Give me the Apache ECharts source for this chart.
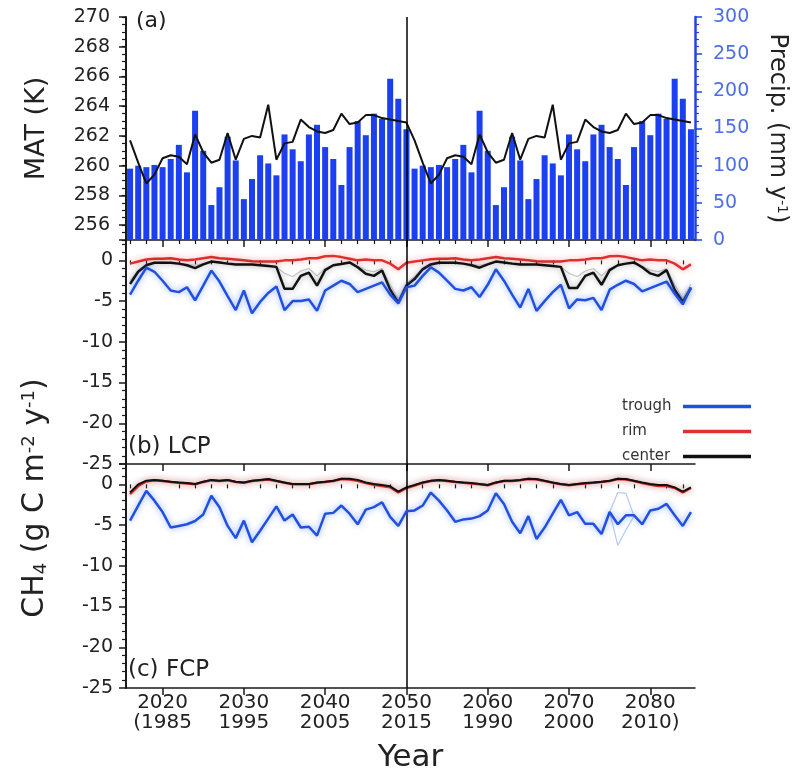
<!DOCTYPE html>
<html><head><meta charset="utf-8">
<script src="https://cdn.jsdelivr.net/npm/echarts@6/dist/echarts.min.js"></script>
<style>html,body{margin:0;padding:0;background:#fff}#c{width:804px;height:774px}</style>
</head><body><div id="c"></div>
<script>
// ---------------- data ----------------
const years = [2016,2017,2018,2019,2020,2021,2022,2023,2024,2025,2026,2027,2028,2029,2030,2031,2032,2033,2034,2035,
  2036,2037,2038,2039,2040,2041,2042,2043,2044,2045,2046,2047,2048,2049,2050,
  2051,2052,2053,2054,2055,2056,2057,2058,2059,2060,2061,2062,2063,2064,2065,2066,2067,2068,2069,2070,
  2071,2072,2073,2074,2075,2076,2077,2078,2079,2080,2081,2082,2083,2084,2085];

const precip = [96,100,98,101,98,109,128,91,174,120,47,71,139,107,55,82,114,103,87,142,122,106,142,155,125,109,74,125,160,141,170,163,217,190,149,
  96,100,98,101,98,109,128,91,174,120,47,71,139,107,55,82,114,103,87,142,122,106,142,155,125,109,74,125,160,141,170,163,217,190,149];

const mat = [261.7,260.2,258.8,259.4,260.5,260.7,260.6,260.1,262.1,260.9,260.2,260.4,262.2,260.4,261.8,262.0,261.9,264.1,260.4,261.5,
  261.6,263.1,262.6,262.3,262.2,262.4,263.5,262.8,262.9,263.4,263.4,263.2,263.1,263.0,262.9,
  261.7,260.2,258.8,259.4,260.5,260.7,260.6,260.1,262.1,260.9,260.2,260.4,262.2,260.4,261.8,262.0,261.9,264.1,260.4,261.5,
  261.6,263.1,262.6,262.3,262.2,262.4,263.5,262.8,262.9,263.4,263.4,263.2,263.1,263.0,262.9];

const lcpTrough = [-4.2,-2.5,-0.9,-1.4,-2.5,-3.7,-3.9,-3.3,-4.9,-3.1,-1.25,-2.6,-4.4,-6.1,-3.7,-6.5,-5.1,-4.0,-3.2,-6.1,-5.0,-5.0,-4.8,-6.2,-3.7,-3.1,-2.5,-2.9,-3.9,-3.5,-3.1,-2.7,-4.2,-5.3,-3.3,
  -3.1,-1.9,-0.85,-1.5,-2.5,-3.5,-3.7,-3.3,-4.5,-3.0,-1.1,-2.5,-4.2,-5.8,-3.5,-6.2,-5.0,-3.9,-3.0,-5.9,-4.8,-4.9,-4.6,-6.1,-3.6,-3.0,-2.5,-2.9,-3.8,-3.4,-3.0,-2.6,-4.1,-5.4,-3.3];
const lcpRim = [-0.4,-0.15,0.1,0.2,0.2,0.25,0.1,0.0,0.1,0.25,0.4,0.25,0.2,0.1,0.0,-0.1,-0.15,-0.15,-0.15,0.0,0.0,0.1,0.25,0.25,0.5,0.55,0.4,0.2,0.0,0.1,0.0,0.0,-0.4,-1.1,-0.3,
  -0.15,0.0,0.15,0.2,0.2,0.25,0.1,0.0,0.1,0.25,0.4,0.25,0.2,0.1,0.0,-0.1,-0.15,-0.15,-0.15,0.0,0.0,0.1,0.25,0.25,0.5,0.55,0.4,0.2,0.0,0.1,0.0,0.0,-0.4,-1.1,-0.5];
const lcpCenter = [-2.9,-1.4,-0.6,-0.3,-0.3,-0.3,-0.4,-0.6,-0.95,-0.5,-0.15,-0.25,-0.4,-0.5,-0.5,-0.5,-0.6,-0.7,-0.8,-3.5,-3.5,-1.9,-1.5,-3.1,-1.2,-0.6,-0.45,-0.25,-0.85,-1.65,-1.9,-1.25,-3.6,-5.2,-3.1,
  -2.3,-1.1,-0.5,-0.3,-0.3,-0.3,-0.4,-0.6,-0.9,-0.5,-0.15,-0.25,-0.4,-0.5,-0.5,-0.5,-0.6,-0.7,-0.8,-3.4,-3.4,-1.9,-1.5,-3.0,-1.2,-0.6,-0.4,-0.25,-0.85,-1.6,-1.9,-1.2,-3.6,-5.1,-3.4];
const lcpCenterAlt = [-2.5,-1.2,-0.5,-0.2,-0.2,-0.3,-0.5,-0.5,-0.6,-0.4,-0.1,-0.2,-0.3,-0.4,-0.5,-0.5,-0.5,-0.6,-0.8,-1.6,-2.0,-1.3,-1.0,-1.9,-1.0,-0.6,-0.4,-0.3,-0.7,-1.2,-1.4,-1.0,-3.0,-4.8,-2.8,
  -2.0,-0.9,-0.4,-0.2,-0.2,-0.3,-0.5,-0.5,-0.6,-0.4,-0.1,-0.2,-0.3,-0.4,-0.5,-0.5,-0.5,-0.6,-0.8,-1.6,-2.0,-1.3,-1.0,-1.9,-1.0,-0.6,-0.4,-0.3,-0.7,-1.2,-1.4,-1.0,-3.0,-4.7,-2.9];

const fcpTrough = [-4.45,-2.6,-0.8,-2.0,-3.4,-5.3,-5.1,-4.9,-4.5,-3.7,-1.4,-2.8,-5.1,-6.6,-4.45,-7.1,-5.7,-4.2,-2.7,-4.45,-3.7,-5.3,-5.2,-6.3,-3.6,-3.5,-2.6,-3.6,-4.9,-3.1,-2.8,-2.2,-4.0,-5.1,-3.3,
  -3.2,-2.6,-1.0,-2.0,-3.2,-4.6,-4.3,-4.2,-3.9,-3.2,-1.1,-2.4,-4.6,-6.0,-3.9,-6.7,-5.3,-3.6,-1.9,-3.8,-3.4,-4.85,-4.85,-6.1,-3.4,-4.9,-3.8,-3.8,-4.9,-3.2,-3.0,-2.4,-3.8,-5.1,-3.4];
const fcpCenter = [-1.0,0.0,0.45,0.55,0.45,0.33,0.24,0.16,0.04,0.33,0.55,0.45,0.55,0.33,0.24,0.45,0.55,0.65,0.45,0.24,0.04,0.04,0.04,0.24,0.33,0.45,0.7,0.7,0.55,0.24,0.04,-0.08,-0.24,-0.9,-0.37,
  -0.08,0.24,0.45,0.55,0.45,0.33,0.24,0.16,0.04,-0.08,0.24,0.45,0.45,0.55,0.7,0.65,0.45,0.24,0.04,-0.08,0.04,0.16,0.24,0.33,0.45,0.7,0.65,0.45,0.24,0.04,-0.08,-0.08,-0.37,-0.9,-0.37];
const fcpRim = [-1.2,-0.2,0.35,0.5,0.4,0.3,0.2,0.1,0.0,0.3,0.5,0.4,0.5,0.3,0.2,0.4,0.5,0.6,0.4,0.2,0.0,0.0,0.0,0.2,0.3,0.4,0.65,0.6,0.45,0.15,-0.05,-0.2,-0.35,-1.0,-0.45,
  -0.15,0.2,0.4,0.5,0.4,0.3,0.2,0.1,0.0,-0.1,0.2,0.4,0.4,0.5,0.65,0.6,0.4,0.2,0.0,-0.1,0.0,0.1,0.2,0.3,0.4,0.65,0.6,0.4,0.15,-0.05,-0.2,-0.2,-0.45,-1.0,-0.45];
const rangeYears = [2075,2076,2077,2078];
const fcpTroughHi = [-3.4,-1.0,-1.1,-3.9];
const fcpTroughLo = [-3.4,-7.5,-5.6,-3.9];

const divideYear = 2050;
const majorYears = [2020,2030,2040,2050,2060,2070,2080];
const yearLabelTop = ['2020','2030','2040','2050','2060','2070','2080'];
const yearLabelBottom = ['(1985','1995','2005','2015','1990','2000','2010)'];
const minorYears = [2016,2018,2022,2024,2026,2028,2032,2034,2036,2038,2042,2044,2046,2048,2052,2054,2056,2058,2062,2064,2066,2068,2072,2074,2076,2078,2082,2084];
const matTicks = [256,258,260,262,264,266,268,270];

// ---------------- chart ----------------
const FONT = 'DejaVu Sans';
const INK = '#1a1a1a';
const BLUE = '#2050e0';
const RED = '#e03030';
const AXB = '#2244e0';
const pairs = (xs, arr) => xs.map((y, i) => [y, arr[i]]);

function xMain(grid, withLabels) {
  const ax = {
    type: 'value', gridIndex: grid, min: 2015.5, max: 2085.5, position: 'bottom',
    axisLine: {show: true, onZero: false, lineStyle: {color: INK, width: 1.5}},
    axisTick: {show: true, customValues: majorYears, length: 7, lineStyle: {color: INK, width: 1.5}},
    axisLabel: {show: withLabels, customValues: majorYears, margin: 5, fontSize: 20, lineHeight: 20, color: '#222', fontFamily: FONT,
      formatter: v => { const i = majorYears.indexOf(v); return i < 0 ? '' : yearLabelTop[i] + '\n' + yearLabelBottom[i]; }},
    splitLine: {show: false}
  };
  if (withLabels) {
    ax.name = 'Year'; ax.nameLocation = 'middle'; ax.nameGap = 54;
    ax.nameTextStyle = {fontSize: 31, color: '#222', fontFamily: FONT};
  }
  return ax;
}
function xMinor(grid) {
  return {type: 'value', gridIndex: grid, min: 2015.5, max: 2085.5, position: 'bottom',
    axisLine: {show: false}, axisTick: {show: true, customValues: minorYears, length: 4, lineStyle: {color: INK, width: 1.2}},
    axisLabel: {show: false}, splitLine: {show: false}};
}
function ch4Axis(grid) {
  return {type: 'value', gridIndex: grid, position: 'left', min: -25, max: 2.5, interval: 5,
    axisLine: {show: true, onZero: false, lineStyle: {color: INK, width: 2}},
    axisTick: {show: true, length: 7, lineStyle: {color: INK, width: 1.5}},
    minorTick: {show: true, splitNumber: 5, length: 4, lineStyle: {color: INK, width: 1.2}},
    axisLabel: {showMaxLabel: false, fontSize: 19, color: '#222', margin: 13, fontFamily: FONT},
    splitLine: {show: false}, minorSplitLine: {show: false}};
}
const divider = {silent: true, symbol: 'none', label: {show: false}, lineStyle: {color: '#000', width: 1.5, type: 'solid'}, data: [{xAxis: divideYear}]};
function lineS(name, xi, yi, data, color, width, shadow, z, extra) {
  return Object.assign({
    name: name, type: 'line', xAxisIndex: xi, yAxisIndex: yi, data: data, symbol: 'none', z: z,
    lineStyle: {color: color, width: width, shadowBlur: shadow ? 6 : 0, shadowColor: shadow || 'transparent'},
    itemStyle: {color: color}
  }, extra || {});
}

const option = {
  animation: false,
  textStyle: {fontFamily: FONT},
  grid: [
    {left: 126, right: 109, top: 17, height: 223},
    {left: 126, right: 109, top: 240, height: 224},
    {left: 126, right: 109, top: 464, height: 224}
  ],
  xAxis: [xMain(0, false), xMinor(0), xMain(1, false), xMinor(1), xMain(2, true), xMinor(2)],
  yAxis: [
    {type: 'value', gridIndex: 0, position: 'left', min: 255, max: 270,
      axisLine: {show: true, onZero: false, lineStyle: {color: INK, width: 2}},
      axisTick: {show: true, customValues: matTicks, length: 7, lineStyle: {color: INK, width: 1.5}},
      axisLabel: {customValues: matTicks, fontSize: 19, color: '#222', margin: 16, fontFamily: FONT},
      splitLine: {show: false},
      name: 'MAT (K)', nameLocation: 'middle', nameRotate: 90, nameGap: 76,
      nameTextStyle: {fontSize: 27, color: '#222', fontFamily: FONT}},
    {type: 'value', gridIndex: 0, position: 'left', min: 255, max: 270, interval: 0.5,
      axisLine: {show: false}, axisTick: {show: true, length: 4, lineStyle: {color: INK, width: 1.2}},
      axisLabel: {show: false}, splitLine: {show: false}},
    {type: 'value', gridIndex: 0, position: 'right', min: 0, max: 300, interval: 50,
      axisLine: {show: true, onZero: false, lineStyle: {color: AXB, width: 2.5}},
      axisTick: {show: true, length: 7, lineStyle: {color: AXB, width: 1.5}},
      minorTick: {show: true, splitNumber: 5, length: 4, lineStyle: {color: AXB, width: 1.2}},
      axisLabel: {fontSize: 19, color: '#4c6ee8', margin: 18, fontFamily: FONT},
      splitLine: {show: false}, minorSplitLine: {show: false},
      name: 'Precip. (mm y{sup|-1})', nameLocation: 'middle', nameRotate: -90, nameGap: 70,
      nameTextStyle: {fontSize: 24, color: '#222', fontFamily: FONT, rich: {sup: {fontSize: 14, verticalAlign: 'top', color: '#222', fontFamily: FONT}}}},
    ch4Axis(1),
    ch4Axis(2)
  ],
  legend: {
    data: ['trough', 'rim', 'center'], orient: 'vertical', align: 'right', left: 617, top: 394,
    icon: 'rect', itemWidth: 68, itemHeight: 3.5, itemGap: 10, selectedMode: false,
    formatter: n => '{a|' + n + '}',
    textStyle: {fontSize: 15, color: '#333', fontFamily: FONT, rich: {a: {width: 56, height: 18, align: 'left', fontSize: 15, color: '#333', fontFamily: FONT}}}
  },
  graphic: [
    {type: 'text', left: 136, top: 10, style: {text: '(a)', fontSize: 22, fill: '#222', fontFamily: FONT}},
    {type: 'text', left: 128, top: 436, style: {text: '(b) LCP', fontSize: 23, fill: '#222', fontFamily: FONT}},
    {type: 'text', left: 128, top: 659, style: {text: '(c) FCP', fontSize: 23, fill: '#222', fontFamily: FONT}},
    {type: 'text', x: 35, y: 498, rotation: Math.PI / 2,
      style: {text: 'CH{sub|4} (g C m{sup|-2} y{sup|-1})', align: 'center', verticalAlign: 'middle', fontSize: 30, fill: '#222', fontFamily: FONT,
        rich: {sub: {fontSize: 18, verticalAlign: 'bottom', fill: '#222', fontFamily: FONT}, sup: {fontSize: 18, verticalAlign: 'top', fill: '#222', fontFamily: FONT}}}}
  ],
  series: [
    {name: 'Precip.', type: 'bar', xAxisIndex: 0, yAxisIndex: 2, data: pairs(years, precip), barWidth: 6,
      itemStyle: {color: '#1c3ff0'}, z: 2, markLine: divider},
    lineS('MAT', 0, 0, pairs(years, mat), '#111', 2, null, 3),

    lineS('center range', 2, 3, pairs(years, lcpCenterAlt), 'rgba(140,140,140,0.45)', 1.2, null, 2),
    lineS('rim', 2, 3, pairs(years, lcpRim), RED, 2.5, 'rgba(255,90,90,0.55)', 3),
    lineS('center', 2, 3, pairs(years, lcpCenter), '#111', 2.5, 'rgba(0,0,0,0.35)', 4),
    lineS('trough', 2, 3, pairs(years, lcpTrough), BLUE, 2.5, 'rgba(60,110,255,0.6)', 5, {markLine: divider}),

    lineS('trough range', 4, 4, pairs(rangeYears, fcpTroughHi), 'rgba(90,130,240,0.45)', 1.2, null, 2),
    lineS('trough range', 4, 4, pairs(rangeYears, fcpTroughLo), 'rgba(90,130,240,0.45)', 1.2, null, 2),
    lineS('rim', 4, 4, pairs(years, fcpRim), RED, 2.5, 'rgba(255,90,90,0.55)', 3),
    lineS('center', 4, 4, pairs(years, fcpCenter), '#111', 2, 'rgba(0,0,0,0.3)', 4),
    lineS('trough', 4, 4, pairs(years, fcpTrough), BLUE, 2.5, 'rgba(60,110,255,0.6)', 5, {markLine: divider})
  ]
};
const chart = echarts.init(document.getElementById('c'), null, {renderer: 'canvas'});
chart.setOption(option);
</script></body></html>
